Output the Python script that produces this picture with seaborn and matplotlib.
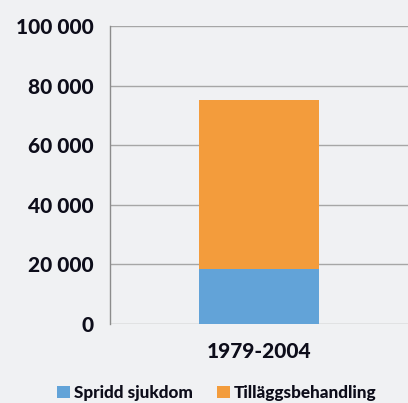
import matplotlib
matplotlib.use("Agg")
import matplotlib.pyplot as plt
import seaborn as sns
import pandas as pd
from matplotlib.ticker import FuncFormatter
from matplotlib.patches import Patch

categories = ["1979-2004"]
spridd_sjukdom = [18500]
tillaggsbehandling = [56500]
series_names = ["Spridd sjukdom", "Tilläggsbehandling"]
yticks = [0, 20000, 40000, 60000, 80000, 100000]

BG = "#f0f1f3"
BLUE = "#62a3d8"
ORANGE = "#f39c3c"
TXT = "#0d0d1a"

sns.set_theme(style="white")
plt.rcParams['font.family'] = ['Lato', 'DejaVu Sans']

df = pd.DataFrame({"cat": categories,
                   "s1": spridd_sjukdom,
                   "total": [a + b for a, b in zip(spridd_sjukdom, tillaggsbehandling)]})

fig = plt.figure(figsize=(4.08, 4.03), dpi=100, facecolor=BG)
ax = fig.add_axes([110/408, 1-324/403, 298/408, 298/403])
ax.set_facecolor(BG)

sns.barplot(data=df, x="cat", y="total", color=ORANGE, width=0.406, ax=ax,
            saturation=1, linewidth=0)
sns.barplot(data=df, x="cat", y="s1", color=BLUE, width=0.406, ax=ax,
            saturation=1, linewidth=0)

ax.set_ylim(0, 100000)
ax.set_xlim(-0.5, 0.5)
ax.set_yticks(yticks)
ax.yaxis.set_major_formatter(FuncFormatter(lambda v, p: f"{int(v):,}".replace(",", " ")))
ax.grid(axis="y", color="#a6a6a6", linewidth=1)
ax.set_axisbelow(True)
for s in ["top", "right", "bottom"]:
    ax.spines[s].set_visible(False)
ax.spines["left"].set_color("#8c8c8c")
ax.spines["left"].set_linewidth(1)
ax.tick_params(axis="y", length=7, color="#a6a6a6", width=1, pad=5, labelsize=15)
ax.tick_params(axis="x", length=0, pad=13, labelsize=15)
for lab in ax.get_yticklabels() + ax.get_xticklabels():
    lab.set_fontweight("black")
    lab.set_color(TXT)
ax.set_xlabel("")
ax.set_ylabel("")

handles = [Patch(facecolor=BLUE, edgecolor="none"), Patch(facecolor=ORANGE, edgecolor="none")]
leg = fig.legend(handles, series_names, loc="center", bbox_to_anchor=(0.532, 0.025),
                 ncol=2, frameon=False, handlelength=0.75, handleheight=0.75,
                 handletextpad=0.25, columnspacing=1.4,
                 prop={"weight": "black", "size": 12.3})
for t in leg.get_texts():
    t.set_color(TXT)

fig.savefig("out.png", dpi=100, facecolor=BG)
